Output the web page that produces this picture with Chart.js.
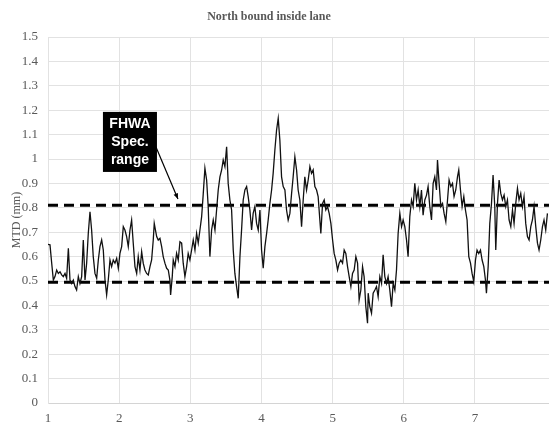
<!DOCTYPE html>
<html>
<head>
<meta charset="utf-8">
<script src="https://cdn.jsdelivr.net/npm/chart.js@4.4.0/dist/chart.umd.min.js"></script>
<style>
  html, body { margin: 0; padding: 0; background: #fff; overflow: hidden; }
</style>
</head>
<body>
<canvas id="mtdChart" width="549" height="423"></canvas>
<script>
// North bound inside lane - mean texture depth along the section

const chartTitle = "North bound inside lane";
const yTitle = "MTD (mm)";
const xTicks = [1, 2, 3, 4, 5, 6, 7];

// FHWA specification limits (mm)
const specUpper = 0.81;
const specLower = 0.495;
const specLabel = ["FHWA", "Spec.", "range"];

const distance = [
  1.000, 1.028, 1.052, 1.075, 1.098, 1.122, 1.145, 1.169, 1.192, 1.215, 1.239, 1.262, 1.286, 1.309, 1.332, 1.356,
  1.379, 1.402, 1.426, 1.449, 1.473, 1.496, 1.520, 1.543, 1.566, 1.590, 1.613, 1.636, 1.660, 1.684, 1.707, 1.730,
  1.754, 1.777, 1.801, 1.824, 1.847, 1.871, 1.894, 1.917, 1.941, 1.965, 1.988, 2.011, 2.035, 2.058, 2.081, 2.105,
  2.128, 2.152, 2.175, 2.198, 2.222, 2.246, 2.268, 2.292, 2.316, 2.338, 2.362, 2.386, 2.409, 2.433, 2.456, 2.479,
  2.493, 2.527, 2.549, 2.573, 2.597, 2.619, 2.643, 2.667, 2.690, 2.713, 2.723, 2.746, 2.760, 2.784, 2.807, 2.830,
  2.854, 2.878, 2.900, 2.924, 2.948, 2.970, 2.994, 3.018, 3.041, 3.065, 3.088, 3.111, 3.135, 3.159, 3.181, 3.205,
  3.229, 3.251, 3.275, 3.299, 3.322, 3.346, 3.369, 3.392, 3.416, 3.440, 3.462, 3.486, 3.510, 3.532, 3.556, 3.580,
  3.603, 3.626, 3.650, 3.673, 3.697, 3.720, 3.743, 3.767, 3.791, 3.813, 3.837, 3.861, 3.883, 3.907, 3.931, 3.954,
  3.978, 4.001, 4.024, 4.048, 4.072, 4.094, 4.118, 4.142, 4.164, 4.188, 4.212, 4.235, 4.258, 4.282, 4.305, 4.329,
  4.352, 4.375, 4.399, 4.423, 4.445, 4.469, 4.493, 4.515, 4.539, 4.563, 4.586, 4.609, 4.633, 4.656, 4.680, 4.703,
  4.726, 4.750, 4.774, 4.796, 4.820, 4.834, 4.858, 4.881, 4.904, 4.928, 4.951, 4.975, 4.999, 5.021, 5.045, 5.069,
  5.091, 5.115, 5.139, 5.162, 5.185, 5.209, 5.232, 5.256, 5.279, 5.302, 5.326, 5.350, 5.372, 5.396, 5.420, 5.442,
  5.466, 5.490, 5.499, 5.522, 5.546, 5.569, 5.593, 5.616, 5.639, 5.663, 5.687, 5.709, 5.733, 5.757, 5.779, 5.803,
  5.827, 5.850, 5.874, 5.897, 5.920, 5.944, 5.968, 5.990, 6.014, 6.038, 6.060, 6.084, 6.108, 6.131, 6.154, 6.178,
  6.201, 6.225, 6.248, 6.271, 6.295, 6.319, 6.341, 6.365, 6.389, 6.412, 6.435, 6.459, 6.473, 6.496, 6.520, 6.544,
  6.566, 6.590, 6.614, 6.636, 6.660, 6.684, 6.706, 6.730, 6.754, 6.772, 6.796, 6.819, 6.843, 6.866, 6.889, 6.913,
  6.937, 6.959, 6.983, 7.007, 7.029, 7.053, 7.077, 7.100, 7.124, 7.147, 7.161, 7.185, 7.208, 7.232, 7.254, 7.278,
  7.292, 7.316, 7.339, 7.362, 7.386, 7.409, 7.433, 7.456, 7.479, 7.503, 7.527, 7.549, 7.573, 7.597, 7.619, 7.643,
  7.667, 7.689, 7.713, 7.737, 7.760, 7.784, 7.807, 7.830, 7.854, 7.878, 7.900, 7.924, 7.948, 7.970, 7.994, 8.018
];

const mtd = [
  0.650, 0.648, 0.573, 0.504, 0.518, 0.545, 0.531, 0.538, 0.525, 0.518, 0.531, 0.511, 0.634, 0.504, 0.490, 0.504,
  0.477, 0.463, 0.518, 0.490, 0.518, 0.668, 0.504, 0.573, 0.695, 0.784, 0.709, 0.600, 0.531, 0.511, 0.586, 0.641,
  0.668, 0.627, 0.504, 0.443, 0.504, 0.586, 0.559, 0.586, 0.573, 0.593, 0.552, 0.613, 0.641, 0.723, 0.709, 0.682,
  0.641, 0.709, 0.750, 0.655, 0.559, 0.531, 0.600, 0.545, 0.620, 0.573, 0.545, 0.531, 0.525, 0.559, 0.586, 0.668,
  0.736, 0.682, 0.668, 0.675, 0.641, 0.600, 0.573, 0.552, 0.545, 0.504, 0.443, 0.518, 0.586, 0.559, 0.613, 0.586,
  0.661, 0.655, 0.573, 0.518, 0.559, 0.613, 0.586, 0.627, 0.668, 0.627, 0.695, 0.655, 0.709, 0.764, 0.855, 0.962,
  0.914, 0.805, 0.600, 0.709, 0.750, 0.709, 0.791, 0.873, 0.927, 0.955, 0.996, 0.969, 1.050, 0.900, 0.832, 0.791,
  0.627, 0.531, 0.477, 0.429, 0.600, 0.709, 0.832, 0.873, 0.887, 0.846, 0.791, 0.709, 0.777, 0.805, 0.736, 0.709,
  0.791, 0.627, 0.552, 0.641, 0.695, 0.750, 0.818, 0.873, 0.941, 1.037, 1.119, 1.167, 1.078, 0.927, 0.887, 0.873,
  0.791, 0.750, 0.777, 0.859, 0.927, 1.009, 0.955, 0.873, 0.832, 0.723, 0.832, 0.927, 0.873, 0.914, 0.969, 0.941,
  0.955, 0.887, 0.873, 0.846, 0.750, 0.695, 0.818, 0.832, 0.791, 0.805, 0.777, 0.736, 0.668, 0.613, 0.586, 0.545,
  0.573, 0.586, 0.573, 0.627, 0.613, 0.559, 0.518, 0.477, 0.531, 0.545, 0.600, 0.573, 0.422, 0.463, 0.559, 0.518,
  0.395, 0.327, 0.450, 0.395, 0.368, 0.450, 0.463, 0.477, 0.436, 0.518, 0.490, 0.607, 0.518, 0.490, 0.518, 0.463,
  0.395, 0.490, 0.463, 0.545, 0.695, 0.777, 0.723, 0.750, 0.723, 0.668, 0.600, 0.764, 0.832, 0.805, 0.900, 0.832,
  0.873, 0.805, 0.873, 0.770, 0.832, 0.852, 0.887, 0.805, 0.750, 0.900, 0.927, 0.873, 0.996, 0.900, 0.805, 0.818,
  0.777, 0.743, 0.832, 0.914, 0.887, 0.900, 0.846, 0.873, 0.927, 0.955, 0.873, 0.805, 0.846, 0.791, 0.750, 0.600,
  0.573, 0.531, 0.497, 0.586, 0.627, 0.613, 0.627, 0.586, 0.559, 0.504, 0.450, 0.559, 0.736, 0.818, 0.934, 0.805,
  0.627, 0.818, 0.914, 0.859, 0.832, 0.852, 0.805, 0.832, 0.750, 0.723, 0.791, 0.736, 0.818, 0.880, 0.832, 0.859,
  0.805, 0.846, 0.736, 0.682, 0.668, 0.723, 0.750, 0.805, 0.723, 0.655, 0.627, 0.668, 0.723, 0.750, 0.709, 0.777
];

const xMin = 1;
const xMax = 8.04;

const textGray = "#595959";
const gridGray = "#e2e2e2";
const serif = "'Liberation Serif', 'Times New Roman', serif";

// title drawn by hand so the plot area can sit right under it
const titlePlugin = {
  id: "titleText",
  afterDraw(chart) {
    const ctx = chart.ctx;
    ctx.save();
    ctx.font = "bold 12px " + serif;
    ctx.fillStyle = textGray;
    ctx.textAlign = "center";
    ctx.textBaseline = "middle";
    ctx.fillText(chartTitle, 269, 17);
    ctx.restore();
  }
};

// black callout box with an arrow pointing at the upper limit
const specNotePlugin = {
  id: "specNote",
  afterDatasetsDraw(chart) {
    const { ctx, scales: { x, y } } = chart;
    const left = x.getPixelForValue(1.772);
    const right = x.getPixelForValue(2.531);
    const top = y.getPixelForValue(1.193);
    const bottom = y.getPixelForValue(0.947);

    ctx.save();
    ctx.fillStyle = "#000";
    ctx.fillRect(left, top, right - left, bottom - top);

    ctx.font = "bold 14px 'Liberation Sans', Arial, sans-serif";
    ctx.fillStyle = "#fff";
    ctx.textAlign = "center";
    ctx.textBaseline = "middle";
    const cx = (left + right) / 2;
    const lineH = (bottom - top) / 3.3;
    specLabel.forEach((t, i) => {
      ctx.fillText(t, cx, top + lineH * (i + 0.65));
    });

    // arrow
    const x0 = x.getPixelForValue(2.517), y0 = y.getPixelForValue(1.049);
    const x1 = x.getPixelForValue(2.826), y1 = y.getPixelForValue(0.836);
    ctx.strokeStyle = "#000";
    ctx.lineWidth = 1.2;
    ctx.beginPath();
    ctx.moveTo(x0, y0);
    ctx.lineTo(x1, y1);
    ctx.stroke();
    const ang = Math.atan2(y1 - y0, x1 - x0);
    const head = 6;
    ctx.beginPath();
    ctx.moveTo(x1, y1);
    ctx.lineTo(x1 - head * Math.cos(ang - 0.4), y1 - head * Math.sin(ang - 0.4));
    ctx.lineTo(x1 - head * Math.cos(ang + 0.4), y1 - head * Math.sin(ang + 0.4));
    ctx.closePath();
    ctx.fillStyle = "#000";
    ctx.fill();
    ctx.restore();
  }
};

const profile = distance.map((d, i) => ({ x: d, y: mtd[i] }));
const upperLine = [{ x: xMin, y: specUpper }, { x: xMax, y: specUpper }];
const lowerLine = [{ x: xMin, y: specLower }, { x: xMax, y: specLower }];

const dashStyle = {
  borderColor: "#000",
  borderWidth: 3,
  borderDash: [10, 6],
  pointRadius: 0,
  showLine: true,
  fill: false
};

new Chart(document.getElementById("mtdChart"), {
  type: "scatter",
  data: {
    datasets: [
      { label: "MTD", data: profile, borderColor: "#111", borderWidth: 1.3, pointRadius: 0, showLine: true, tension: 0 },
      Object.assign({ label: "Upper limit", data: upperLine }, dashStyle),
      Object.assign({ label: "Lower limit", data: lowerLine }, dashStyle)
    ]
  },
  options: {
    responsive: false,
    animation: false,
    layout: { padding: { top: 37, right: 0, bottom: 0, left: 0 } },
    plugins: {
      legend: { display: false },
      title: { display: false },
      tooltip: { enabled: false }
    },
    scales: {
      x: {
        type: "linear",
        min: xMin,
        max: xMax,
        afterBuildTicks: axis => { axis.ticks = xTicks.map(v => ({ value: v })); },
        afterFit: axis => { axis.height = 20; },
        grid: { color: gridGray, drawTicks: false },
        border: { color: "#d4d4d4" },
        ticks: {
          padding: 8,
          color: textGray,
          font: { family: serif, size: 13 },
          callback: v => String(v)
        }
      },
      y: {
        min: 0,
        max: 1.5,
        afterFit: axis => { axis.width = 48; },
        grid: { color: gridGray, drawTicks: false },
        border: { color: gridGray },
        ticks: {
          stepSize: 0.1,
          padding: 10,
          color: textGray,
          font: { family: serif, size: 13 },
          callback: v => String(+v.toFixed(1))
        },
        title: {
          display: true,
          text: yTitle,
          color: textGray,
          padding: { top: 10, bottom: 0 },
          font: { family: serif, size: 12 }
        }
      }
    }
  },
  plugins: [titlePlugin, specNotePlugin]
});
</script>
</body>
</html>
